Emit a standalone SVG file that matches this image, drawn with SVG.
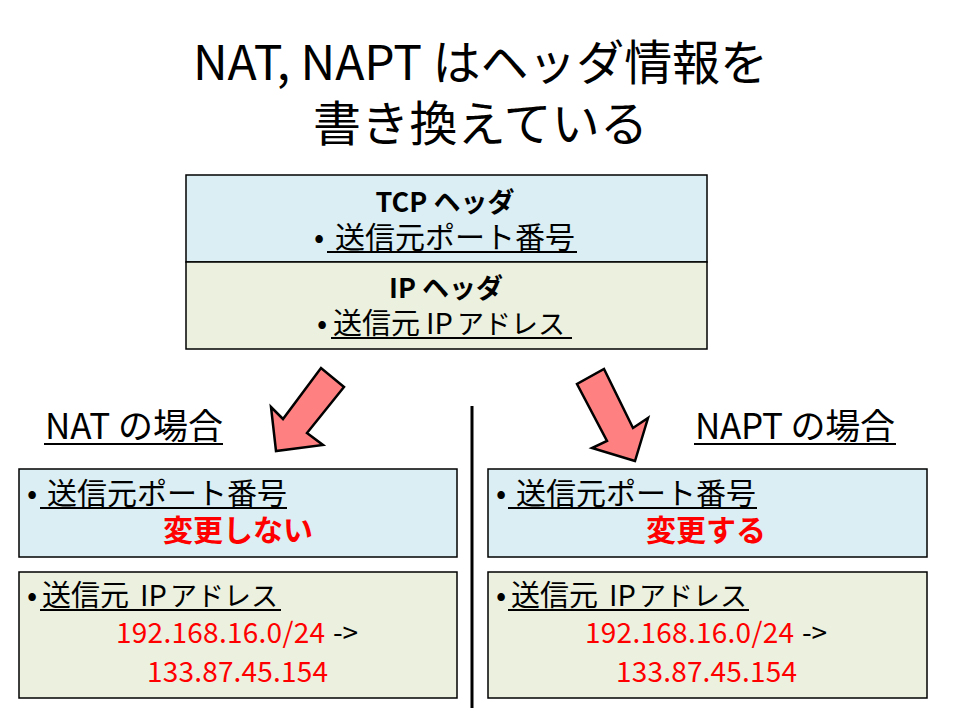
<svg xmlns="http://www.w3.org/2000/svg" width="960" height="720" viewBox="0 0 960 720">
<style>
text{font-family:"Noto Sans CJK JP","Noto Sans",sans-serif;fill:#000}
.t{font-size:48px}
.h{font-size:27px;font-weight:bold;text-anchor:middle}
.c{font-size:35px}
.b{font-size:30px}
.i{font-size:29px}
.k{font-size:27px}
.r{fill:#FF0000}
.rb{fill:#FF0000;font-weight:bold;font-size:30px;text-anchor:middle}
.n{font-size:28px}
.blue{fill:#DAEEF3;stroke:#000;stroke-width:1.5}
.green{fill:#EBF1DE;stroke:#000;stroke-width:1.5}
.u{stroke:#000;stroke-width:2}
.arrow{fill:#FF8080;stroke:#000;stroke-width:2.5;stroke-linejoin:miter}
</style>
<rect width="960" height="720" fill="#fff"/>
<g id="title">
<text class="t" x="193" y="80" textLength="575">NAT, NAPT はヘッダ情報を</text>
<text class="t" x="313" y="141" textLength="335">書き換えている</text>
</g>
<g id="header-box">
<rect class="blue" x="186" y="175" width="521" height="87"/>
<rect class="green" x="186" y="262" width="521" height="87"/>
<text class="h" x="445" y="212">TCP ヘッダ</text>
<text class="b" x="314" y="248">•</text>
<text class="b" x="335" y="248">送信元ポート番号</text>
<line class="u" x1="327" y1="252" x2="577" y2="252"/>
<text class="h" x="446" y="298">IP ヘッダ</text>
<text class="b" x="317" y="334">•</text>
<text class="i" x="333" y="334">送信元<tspan x="426">IP</tspan><tspan class="k" x="457" font-size="28">アドレス</tspan></text>
<line class="u" x1="331" y1="338" x2="572" y2="338"/>
</g>
<g id="connectors">
<polygon class="arrow" points="276,451 271,407 283,419 321,368 344,387 307,433 323,445"/>
<polygon class="arrow" points="635,461 592,448 607,441 577,384 604,369 633,428 648,418"/>
<line x1="472" y1="406" x2="472" y2="708" stroke="#000" stroke-width="3"/>
</g>
<g id="nat-label">
<text class="c" x="45" y="439" textLength="178">NAT の場合</text>
<line class="u" x1="44" y1="444" x2="223" y2="444"/>
</g>
<g id="napt-label">
<text class="c" x="695" y="439" textLength="200">NAPT の場合</text>
<line class="u" x1="694" y1="444" x2="896" y2="444"/>
</g>
<g id="nat-port">
<rect class="blue" x="19" y="469" width="438" height="88"/>
<text class="b" x="27" y="504">•</text>
<text class="b" x="47" y="504">送信元ポート番号</text>
<line class="u" x1="40" y1="508" x2="287" y2="508"/>
<text class="rb" x="238" y="541">変更しない</text>
</g>
<g id="nat-ip">
<rect class="green" x="19" y="572" width="438" height="126"/>
<text class="b" x="27" y="606">•</text>
<text class="i" x="42" y="606">送信元<tspan x="140">IP</tspan><tspan class="k" x="170">アドレス</tspan></text>
<line class="u" x1="40" y1="610" x2="281" y2="610"/>
<text class="n r" x="116" y="643" textLength="209">192.168.16.0/24</text>
<text class="n" x="333" y="643" textLength="25">-&gt;</text>
<text class="n r" x="147" y="682" textLength="181">133.87.45.154</text>
</g>
<g id="napt-port">
<rect class="blue" x="488" y="469" width="439" height="88"/>
<text class="b" x="496" y="504">•</text>
<text class="b" x="516" y="504">送信元ポート番号</text>
<line class="u" x1="508" y1="508" x2="757" y2="508"/>
<text class="rb" x="706" y="541">変更する</text>
</g>
<g id="napt-ip">
<rect class="green" x="488" y="572" width="439" height="126"/>
<text class="b" x="496" y="606">•</text>
<text class="i" x="511" y="606">送信元<tspan x="609">IP</tspan><tspan class="k" x="639">アドレス</tspan></text>
<line class="u" x1="508" y1="610" x2="749" y2="610"/>
<text class="n r" x="585" y="643" textLength="209">192.168.16.0/24</text>
<text class="n" x="802" y="643" textLength="25">-&gt;</text>
<text class="n r" x="616" y="682" textLength="181">133.87.45.154</text>
</g>
</svg>
